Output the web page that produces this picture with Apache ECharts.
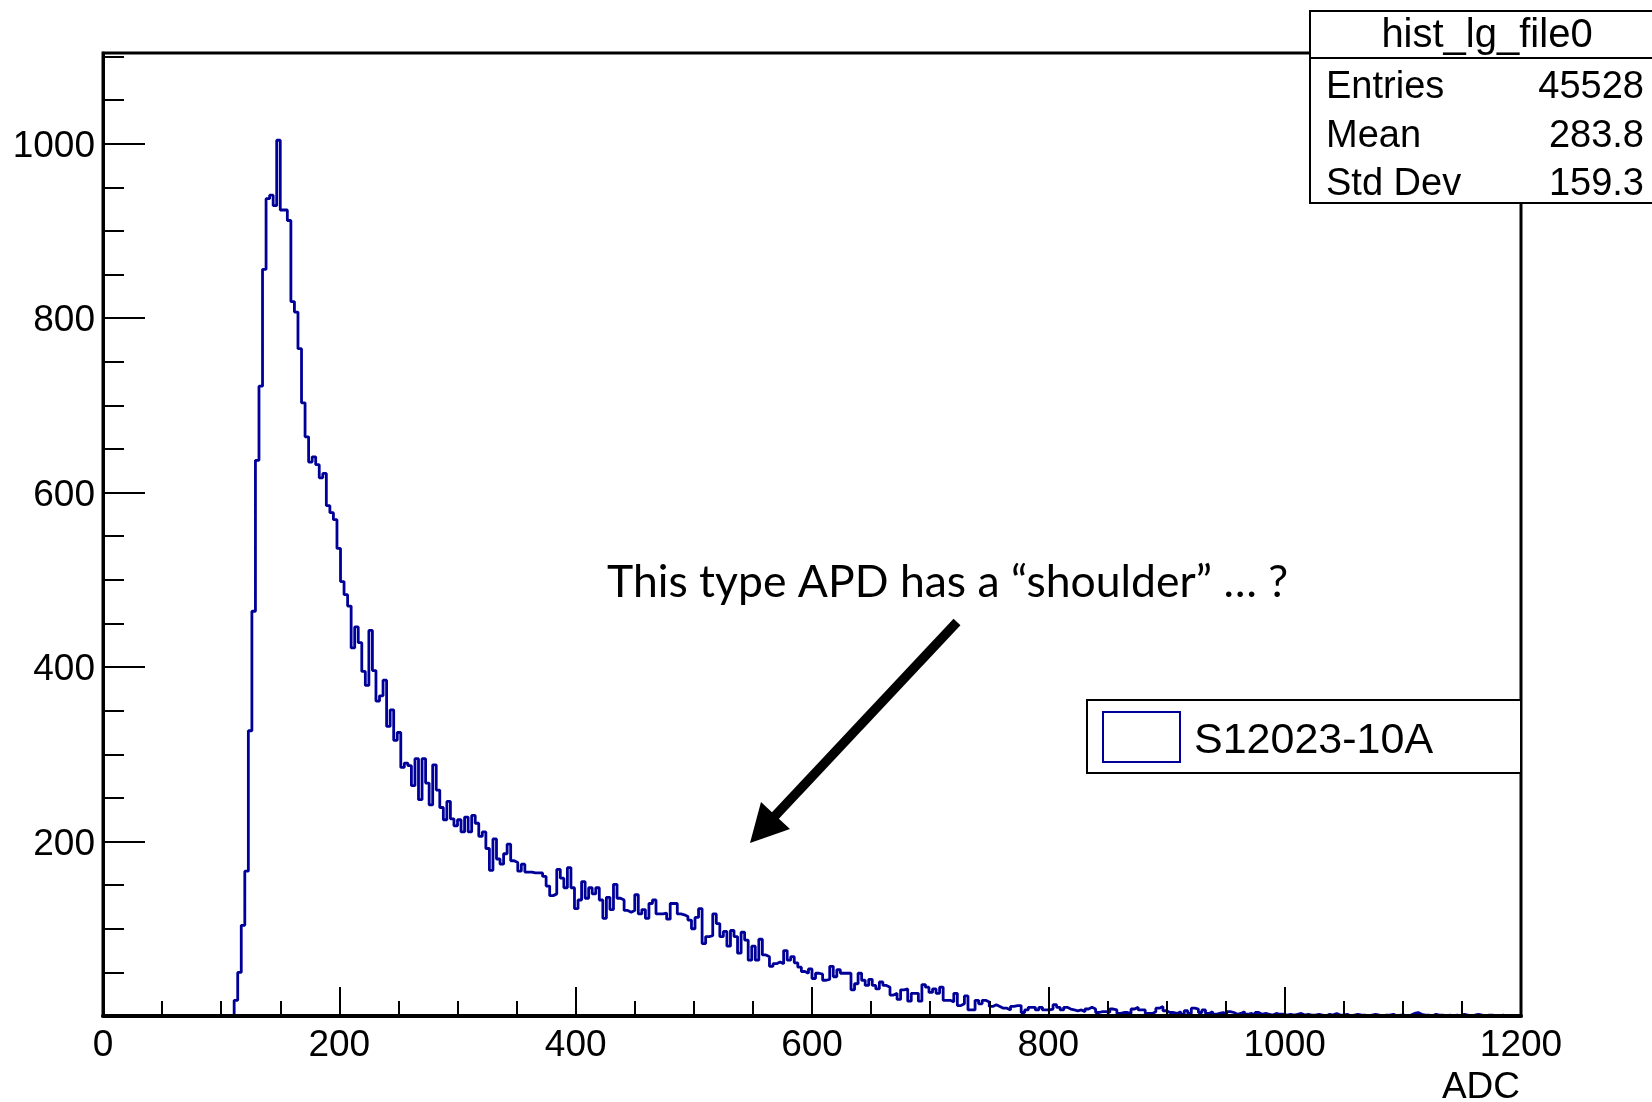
<!DOCTYPE html>
<html><head><meta charset="utf-8">
<script src="https://cdn.jsdelivr.net/npm/echarts@6/dist/echarts.min.js"></script>
<style>html,body{margin:0;padding:0;background:#fff}#c{width:1652px;height:1102px}</style>
</head><body><div id="c"></div>
<script>
// ---- histogram definition (ROOT TH1: 400 bins from 0 to 1200 ADC) ----
const xMin = 0, xMax = 1200, binWidth = 3;
const yMax = 1104;
const xTickValues = [0, 200, 400, 600, 800, 1000, 1200];
const yTickValues = [200, 400, 600, 800, 1000];

// bins 0-36 : empty
const countsPedestal = new Array(37).fill(0);
// bins 37-243
const countsMain = [
  18, 50, 104, 166, 327, 464, 637, 722, 856, 937,
  941, 929, 1004, 924, 924, 912, 819, 807, 765, 703,
  664, 635, 641, 632, 617, 622, 585, 577, 569, 536,
  498, 483, 470, 422, 446, 428, 395, 379, 442, 396,
  361, 367, 385, 332, 351, 316, 325, 285, 290, 287,
  264, 295, 248, 295, 267, 242, 288, 259, 239, 225,
  246, 226, 218, 225, 211, 228, 211, 230, 221, 206,
  211, 192, 167, 203, 180, 174, 186, 197, 178, 176,
  166, 174, 165, 165, 164, 164, 164, 160, 149, 138,
  140, 168, 158, 147, 170, 147, 123, 133, 154, 135,
  147, 140, 147, 133, 112, 136, 122, 151, 135, 133,
  121, 119, 121, 139, 117, 122, 112, 129, 133, 117,
  117, 118, 111, 129, 129, 117, 116, 114, 110, 100,
  113, 123, 83, 91, 92, 117, 106, 91, 97, 80,
  98, 91, 72, 96, 87, 64, 80, 64, 88, 70,
  68, 57, 60, 62, 60, 75, 64, 68, 61, 56,
  51, 49, 54, 43, 49, 48, 41, 42, 57, 45,
  53, 49, 49, 49, 30, 37, 49, 41, 35, 42,
  35, 31, 39, 35, 33, 24, 26, 19, 30, 31,
  17, 26, 26, 17, 36, 33, 27, 31, 26, 33,
  18, 18, 16, 26, 12, 14, 23
];
// bins 244-399
const countsTail = [
  7, 7, 18, 14, 18, 16, 11,
  13, 11, 9, 9, 7, 11, 12, 12, 4, 7, 10, 10, 7, 10, 7, 7,
  8, 13, 10, 7, 10, 8, 7, 6, 7, 5, 8, 10, 8, 4, 5, 5, 4,
  8, 7, 3, 4, 4, 3, 8, 10, 7, 7, 3, 3, 5, 9, 11, 6, 4,
  4, 3, 5, 2, 6, 3, 9, 8, 4, 7, 3, 5, 2, 3, 4, 2, 5,
  4, 2, 3, 5, 2, 3, 1, 4, 2, 3, 2, 1, 3, 2, 2, 1,
  2, 1, 2, 3, 1, 2, 1, 1, 2, 1, 0, 2, 1, 3, 1, 1, 2, 0, 1, 2, 1, 1, 0, 1, 2, 1, 0, 1, 1, 2, 0, 1, 1, 0,
  1, 3, 4, 2, 1, 1, 0, 2, 1, 1, 0, 1, 0,
  1, 0, 2, 1, 0, 1, 2, 1, 0, 1, 1, 0, 0, 1, 0, 0, 0, 0, 0
];
const seriesName = 'S12023-10A';
const statsTitle = 'hist_lg_file0';
const statsLabels = ['Entries', 'Mean', 'Std Dev'];
const statsValues = ['45528', '283.8', '159.3'];
const annotation = 'This type APD has a \u201Cshoulder\u201D \u2026 ?';
const xTitle = 'ADC';

const counts = countsPedestal.concat(countsMain, countsTail);
const histData = counts.map((c, i) => [xMin + i * binWidth, c]);
histData.push([xMin + counts.length * binWidth, counts[counts.length - 1]]);

const FONT = '"Liberation Sans"';
const BLUE = '#000099';
const chart = echarts.init(document.getElementById('c'), null, {renderer: 'canvas'});

const majorTick = (len) => ({show: true, inside: true, length: len, lineStyle: {color: '#000', width: 2}});

const option = {
  animation: false,
  backgroundColor: '#fff',
  grid: {left: 103, right: 131, top: 53, bottom: 86, show: true, borderColor: '#000', borderWidth: 3, backgroundColor: 'transparent'},
  xAxis: [
    {type: 'value', min: xMin, max: xMax, interval: 200, position: 'bottom', z: 5,
      axisLine: {show: true, onZero: false, lineStyle: {color: '#000', width: 4}},
      axisTick: majorTick(29), splitLine: {show: false},
      axisLabel: {show: true, margin: 11, fontFamily: FONT, fontSize: 37, color: '#000',
        formatter: v => xTickValues.includes(v) ? String(v) : ''}},
    {type: 'value', min: xMin, max: xMax, interval: 50, position: 'bottom', z: 5,
      axisLine: {show: false}, axisTick: majorTick(15), splitLine: {show: false}, axisLabel: {show: false}}
  ],
  yAxis: [
    {type: 'value', min: 0, max: yMax, interval: 200, position: 'left', z: 5,
      axisLine: {show: true, onZero: false, lineStyle: {color: '#000', width: 3}},
      axisTick: majorTick(42), splitLine: {show: false},
      axisLabel: {show: true, margin: 8, color: '#000', showMinLabel: false, showMaxLabel: false,
        formatter: v => yTickValues.includes(v) ? '{a|' + v + '}' : '',
        rich: {a: {fontFamily: FONT, fontSize: 37, color: '#000', padding: [6, 0, 0, 0]}}}},
    {type: 'value', min: 0, max: yMax, interval: 50, position: 'left', z: 5,
      axisLine: {show: false}, axisTick: majorTick(21), splitLine: {show: false}, axisLabel: {show: false}}
  ],
  series: [{
    name: seriesName, type: 'line', step: 'end', xAxisIndex: 0, yAxisIndex: 0,
    data: histData, symbol: 'none', showSymbol: false, clip: true,
    lineStyle: {color: BLUE, width: 2.8}, itemStyle: {color: BLUE}, z: 2
  }],
  graphic: [
    // x-axis title
    {type: 'text', z: 10, style: {text: xTitle, x: 1520, y: 1088, align: 'right', verticalAlign: 'middle', font: '37px "Liberation Sans"', fill: '#000'}},
    // stats box
    {type: 'rect', z: 20, shape: {x: 1310, y: 11, width: 360, height: 192}, style: {fill: '#fff', stroke: '#000', lineWidth: 2}},
    {type: 'line', z: 21, shape: {x1: 1310, y1: 58, x2: 1670, y2: 58}, style: {stroke: '#000', lineWidth: 2}},
    {type: 'text', z: 22, style: {text: statsTitle, x: 1487, y: 36, align: 'center', verticalAlign: 'middle', font: '40px "Liberation Sans"', fill: '#000'}},
    ...statsLabels.map((t, i) => ({type: 'text', z: 22, style: {text: t, x: 1326, y: 88 + i * 48.5, align: 'left', verticalAlign: 'middle', font: '38px "Liberation Sans"', fill: '#000'}})),
    ...statsValues.map((t, i) => ({type: 'text', z: 22, style: {text: t, x: 1644, y: 88 + i * 48.5, align: 'right', verticalAlign: 'middle', font: '38px "Liberation Sans"', fill: '#000'}})),
    // legend
    {type: 'rect', z: 20, shape: {x: 1087, y: 700, width: 434, height: 73}, style: {fill: '#fff', stroke: '#000', lineWidth: 2}},
    {type: 'rect', z: 21, shape: {x: 1103, y: 712, width: 77, height: 50}, style: {fill: '#fff', stroke: BLUE, lineWidth: 2}},
    {type: 'text', z: 22, style: {text: seriesName, x: 1194, y: 741, align: 'left', verticalAlign: 'middle', font: '43px "Liberation Sans"', fill: '#000'}},
    // annotation
    {type: 'text', z: 22, style: {text: annotation, x: 607, y: 583, align: 'left', verticalAlign: 'middle', font: '44.5px Lato', fill: '#000'}},
    {type: 'line', z: 22, shape: {x1: 957, y1: 622, x2: 774, y2: 817}, style: {stroke: '#000', lineWidth: 9.5, lineCap: 'butt'}},
    {type: 'polygon', z: 22, shape: {points: [[750, 843], [761, 802], [777, 817], [790, 829]]}, style: {fill: '#000'}}
  ]
};
chart.setOption(option);
</script>
</body></html>
